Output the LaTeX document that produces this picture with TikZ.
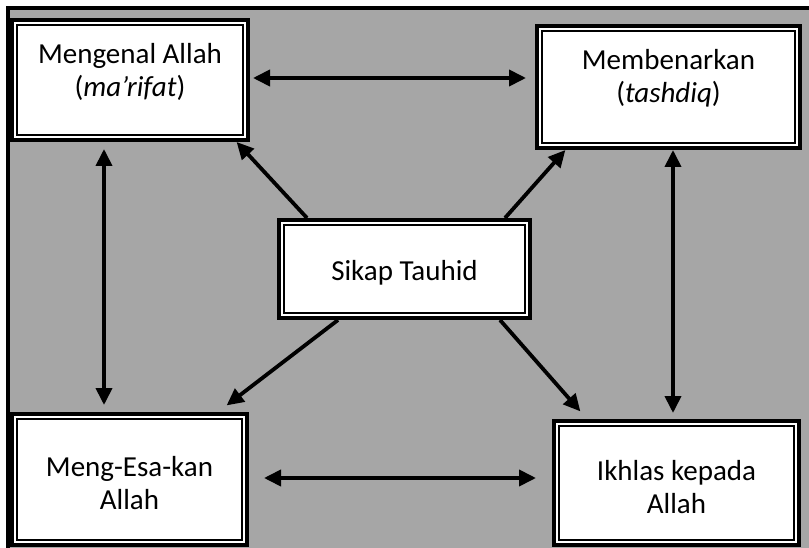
\documentclass[tikz,border=0pt]{standalone}
\usepackage{fontspec}
\setmainfont{Carlito}
\usetikzlibrary{arrows.meta}
\definecolor{bggray}{HTML}{A6A6A6}

\begin{document}
\begin{tikzpicture}[
      x = 1pt, y = -1pt,
      box/.style = {
        draw, line width = 4pt, fill = white,
        path picture = {
          \draw[line width = 1.6pt]
            ([shift={(5.1pt,-5.1pt)}]path picture bounding box.north west)
            rectangle ([shift={(-5.1pt,5.1pt)}]path picture bounding box.south east);
        }
      }, txt/.style = {
        align = center, inner sep = 0pt,
        font = \fontsize{29}{33}\selectfont
      }, link/.style = {
        line width = 3.8pt
      },
      > = {Triangle[length=17pt,width=16pt]}
    ]
      \useasboundingbox (0,0) rectangle (809,548);
      \clip (0,0) rectangle (809,548);
      \draw[line width=4pt, fill=bggray] (8,8) rectangle (830,570);

      % boxes
      \node[box, minimum width=236pt, minimum height=120pt] (kenal)  at (130,80)    {};
      \node[box, minimum width=263pt, minimum height=122pt] (benar)  at (668.5,87)  {};
      \node[box, minimum width=251pt, minimum height=98pt]  (tauhid) at (404.5,269) {};
      \node[box, minimum width=235pt, minimum height=131pt] (esa)    at (129.5,479.5) {};
      \node[box, minimum width=245pt, minimum height=124pt] (ikhlas) at (676.5,483) {};

      \node[txt] (kenal-txt)  at ([yshift=8.5pt]kenal.center)  {Mengenal Allah\\(\textit{ma’rifat})};
      \node[txt] (benar-txt)  at ([yshift=9pt]benar.center)    {Membenarkan\\(\textit{tashdiq})};
      \node[txt] (tauhid-txt) at ([yshift=-3.7pt]tauhid.center) {Sikap Tauhid};
      \node[txt] (esa-txt)    at ([yshift=-4pt]esa.center)     {Meng-Esa-kan\\Allah};
      \node[txt] (ikhlas-txt) at ([yshift=-4.5pt]ikhlas.center) {Ikhlas kepada\\Allah};

      % arrows
      \draw[link, <->, shorten <=3pt, shorten >=9pt]
        ([yshift=2pt]kenal.east) -- ([yshift=2pt]kenal.east -| benar.west);
      \draw[link, <->, shorten <=15pt, shorten >=16pt]
        ([yshift=1.5pt]esa.east) -- ([yshift=1.5pt]esa.east -| ikhlas.west);
      \draw[link, <->, shorten <=7pt, shorten >=7pt]
        ([xshift=-26pt]kenal.south) -- ([xshift=-26pt]kenal.south |- esa.north);
      \draw[link, <->, shorten >=6pt]
        ([xshift=4.5pt]benar.south) -- ([xshift=4.5pt]benar.south |- ikhlas.north);
      \draw[link, ->] ([xshift=-97.5pt]tauhid.north) -- ([xshift=-13.4pt]kenal.south east);
      \draw[link, ->] ([xshift=100.5pt]tauhid.north) -- ([xshift=30.4pt]benar.south west);
      \draw[link, ->] ([xshift=-66.5pt]tauhid.south) -- ([xshift=-22.4pt,yshift=6.6pt]esa.north east);
      \draw[link, ->] ([xshift=95.5pt]tauhid.south) -- ([xshift=28.4pt,yshift=7.6pt]ikhlas.north west);
    \end{tikzpicture}
\end{document}
